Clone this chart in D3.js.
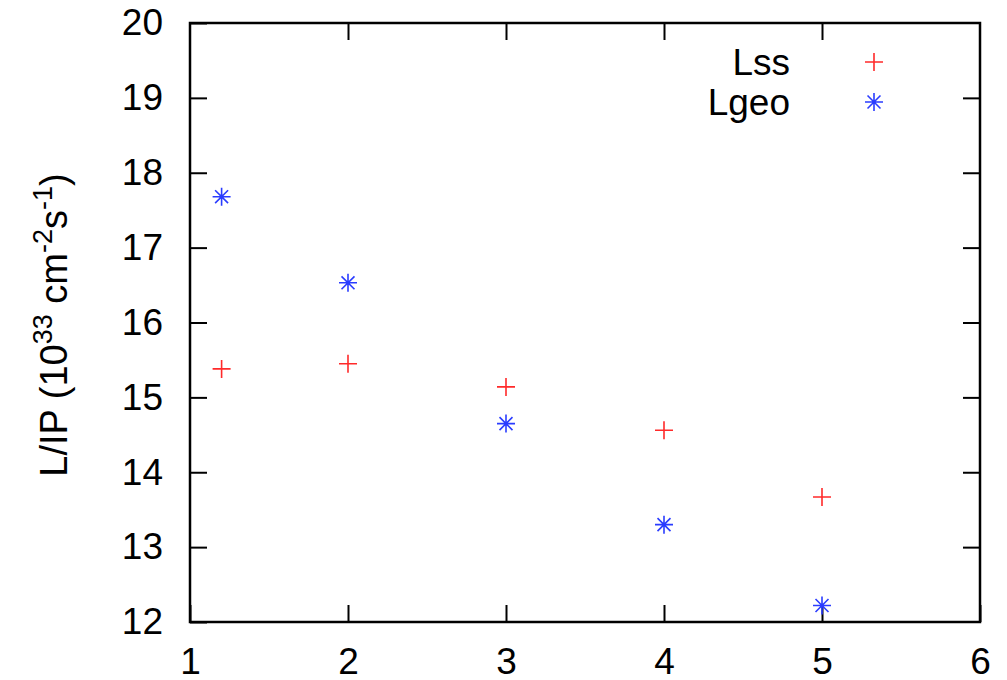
<!DOCTYPE html>
<html>
<head>
<meta charset="utf-8">
<script src="https://cdn.jsdelivr.net/npm/d3@7"></script>
<style>
  body { margin: 0; background: #fff; }
  text { font-family: "Liberation Sans", Arial, sans-serif; fill: #000; }
</style>
</head>
<body>
<div id="chart"></div>
<script>
var svgWidth = 1007;
var svgHeight = 680;

var margin = { top: 23, right: 27, bottom: 58, left: 190 };
var width = svgWidth - margin.left - margin.right;
var height = svgHeight - margin.top - margin.bottom;

// data
var xLss = [1.2, 2, 3, 4, 5];
var yLss = [15.38, 15.45, 15.14, 14.56, 13.67];
var xLgeo = [1.2, 2, 3, 4, 5];
var yLgeo = [17.68, 16.53, 14.65, 13.30, 12.22];
var xTicks = [1, 2, 3, 4, 5, 6];
var yTicks = [12, 13, 14, 15, 16, 17, 18, 19, 20];
var seriesNames = ["Lss", "Lgeo"];

var red = "#ff2a2a";
var blue = "#2a3cff";
var fontSize = 37;

var svg = d3.select("#chart")
  .append("svg")
  .attr("width", svgWidth)
  .attr("height", svgHeight);

var chartGroup = svg.append("g")
  .attr("transform", `translate(${margin.left}, ${margin.top})`);

var x = d3.scaleLinear().domain([1, 6]).range([0, width]);
var y = d3.scaleLinear().domain([12, 20]).range([height, 0]);

var tickLen = 17;

// axes (ticks inward, mirrored on top/right)
function styleAxis(g) {
  g.select(".domain").remove();
  g.selectAll(".tick line").attr("stroke", "#000").attr("stroke-width", 2);
  g.selectAll(".tick text")
    .style("font-size", fontSize + "px")
    .style("font-family", "Liberation Sans, Arial, sans-serif");
}

chartGroup.append("g")
  .attr("transform", `translate(0, ${height})`)
  .call(d3.axisBottom(x).tickValues(xTicks).tickFormat(d3.format("d"))
    .tickSizeInner(-tickLen).tickSizeOuter(0).tickPadding(26))
  .call(styleAxis);

chartGroup.append("g")
  .call(d3.axisLeft(y).tickValues(yTicks).tickFormat(d3.format("d"))
    .tickSizeInner(-tickLen).tickSizeOuter(0).tickPadding(27))
  .call(styleAxis);

chartGroup.append("g")
  .call(d3.axisTop(x).tickValues(xTicks.slice(1, -1)).tickFormat("")
    .tickSizeInner(-tickLen).tickSizeOuter(0))
  .call(styleAxis);

chartGroup.append("g")
  .attr("transform", `translate(${width}, 0)`)
  .call(d3.axisRight(y).tickValues(yTicks.slice(1, -1)).tickFormat("")
    .tickSizeInner(-tickLen).tickSizeOuter(0))
  .call(styleAxis);

// frame
chartGroup.append("rect")
  .attr("width", width)
  .attr("height", height)
  .attr("fill", "none")
  .attr("stroke", "#000")
  .attr("stroke-width", 2.5);

// markers
var s = 9;
function plusPath(cx, cy) {
  return `M${cx - s},${cy}H${cx + s}M${cx},${cy - s}V${cy + s}`;
}
function starPath(cx, cy) {
  var d = s * 0.72;
  return plusPath(cx, cy) + `M${cx - d},${cy - d}L${cx + d},${cy + d}M${cx - d},${cy + d}L${cx + d},${cy - d}`;
}

chartGroup.selectAll(".lss")
  .data(d3.range(xLss.length)).enter()
  .append("path")
  .attr("class", "lss")
  .attr("d", i => plusPath(x(xLss[i]), y(yLss[i])))
  .attr("stroke", red)
  .attr("stroke-width", 1.6)
  .attr("fill", "none");

chartGroup.selectAll(".lgeo")
  .data(d3.range(xLgeo.length)).enter()
  .append("path")
  .attr("class", "lgeo")
  .attr("d", i => starPath(x(xLgeo[i]), y(yLgeo[i])))
  .attr("stroke", blue)
  .attr("stroke-width", 1.6)
  .attr("fill", "none");

// legend
var legend = svg.append("g");
var legendY = [62, 102];
seriesNames.forEach(function (name, i) {
  legend.append("text")
    .attr("x", 790)
    .attr("y", legendY[i])
    .attr("dy", "0.35em")
    .attr("text-anchor", "end")
    .style("font-size", fontSize + "px")
    .text(name);
  legend.append("path")
    .attr("d", i === 0 ? plusPath(874, legendY[i]) : starPath(874, legendY[i]))
    .attr("stroke", i === 0 ? red : blue)
    .attr("stroke-width", 1.6)
    .attr("fill", "none");
});

// y label
var yLabel = svg.append("text")
  .attr("transform", "translate(67, 325) rotate(-90)")
  .attr("text-anchor", "middle")
  .style("font-size", "38px");
yLabel.append("tspan").text("L/IP (10");
yLabel.append("tspan").attr("dy", -15).style("font-size", "27px").text("33");
yLabel.append("tspan").attr("dy", 15).text(" cm");
yLabel.append("tspan").attr("dy", -15).style("font-size", "27px").text("-2");
yLabel.append("tspan").attr("dy", 15).text("s");
yLabel.append("tspan").attr("dy", -15).style("font-size", "27px").text("-1");
yLabel.append("tspan").attr("dy", 15).text(")");
</script>
</body>
</html>
